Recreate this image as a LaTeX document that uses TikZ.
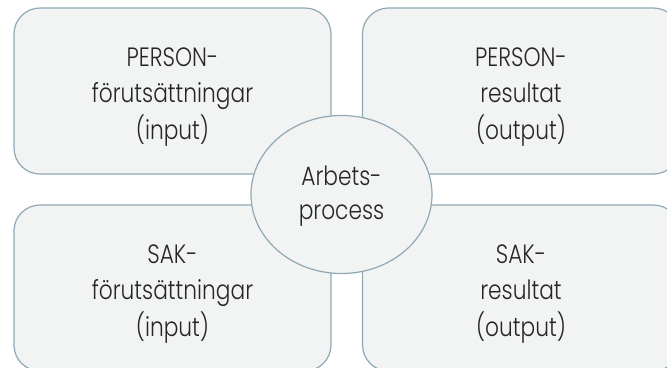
\documentclass[tikz,border=0pt]{standalone}
\usepackage{fontspec}
\setmainfont{Poppins}[UprightFont={* Light}, FakeStretch=0.82]
\usetikzlibrary{shapes.geometric,calc}
\definecolor{boxfill}{HTML}{F2F4F4}
\definecolor{boxline}{HTML}{8FA8B4}
\definecolor{ink}{HTML}{262626}
\tikzset{
  quad/.style={draw=boxline, fill=boxfill, line width=1.2bp, rounded corners=26bp,
    minimum width=317bp, minimum height=166bp, inner sep=0pt, outer sep=0pt},
  hub/.style={draw=boxline, fill=boxfill, line width=1.2bp, ellipse,
    minimum width=181bp, minimum height=158bp, inner sep=0pt},
  words/.style={text=ink, align=center, font=\fontsize{26.5bp}{36.5bp}\selectfont, inner sep=0pt}
}
\begin{document}
\begin{tikzpicture}[x=1bp, y=-1bp]
  \useasboundingbox (0,0) rectangle (667,367);
  \clip (0,0) rectangle (667,367);
  % four quadrant boxes
  \node[quad] (pin)  at (172.5,91)  {};
  \node[quad] (pout) at (521,91)    {};
  \node[quad] (sin)  at (172.5,288) {};
  \node[quad] (sout) at (521,288)   {};
  \node[words] (pinT)  at ($(pin.center)+(0,6)$)  {PERSON-\\förutsättningar\\(input)};
  \node[words] (poutT) at ($(pout.center)+(0,6)$) {PERSON-\\resultat\\(output)};
  \node[words] (sinT)  at ($(sin.center)+(0,6)$)  {SAK-\\förutsättningar\\(input)};
  \node[words] (soutT) at ($(sout.center)+(0,6)$) {SAK-\\resultat\\(output)};
  % central process
  \node[hub] (proc) at (341.5,194.5) {};
  \node[words, font=\fontsize{26.5bp}{34bp}\selectfont] (procT) at ($(proc.center)+(0,2)$) {Arbets-\\process};
\end{tikzpicture}
\end{document}
